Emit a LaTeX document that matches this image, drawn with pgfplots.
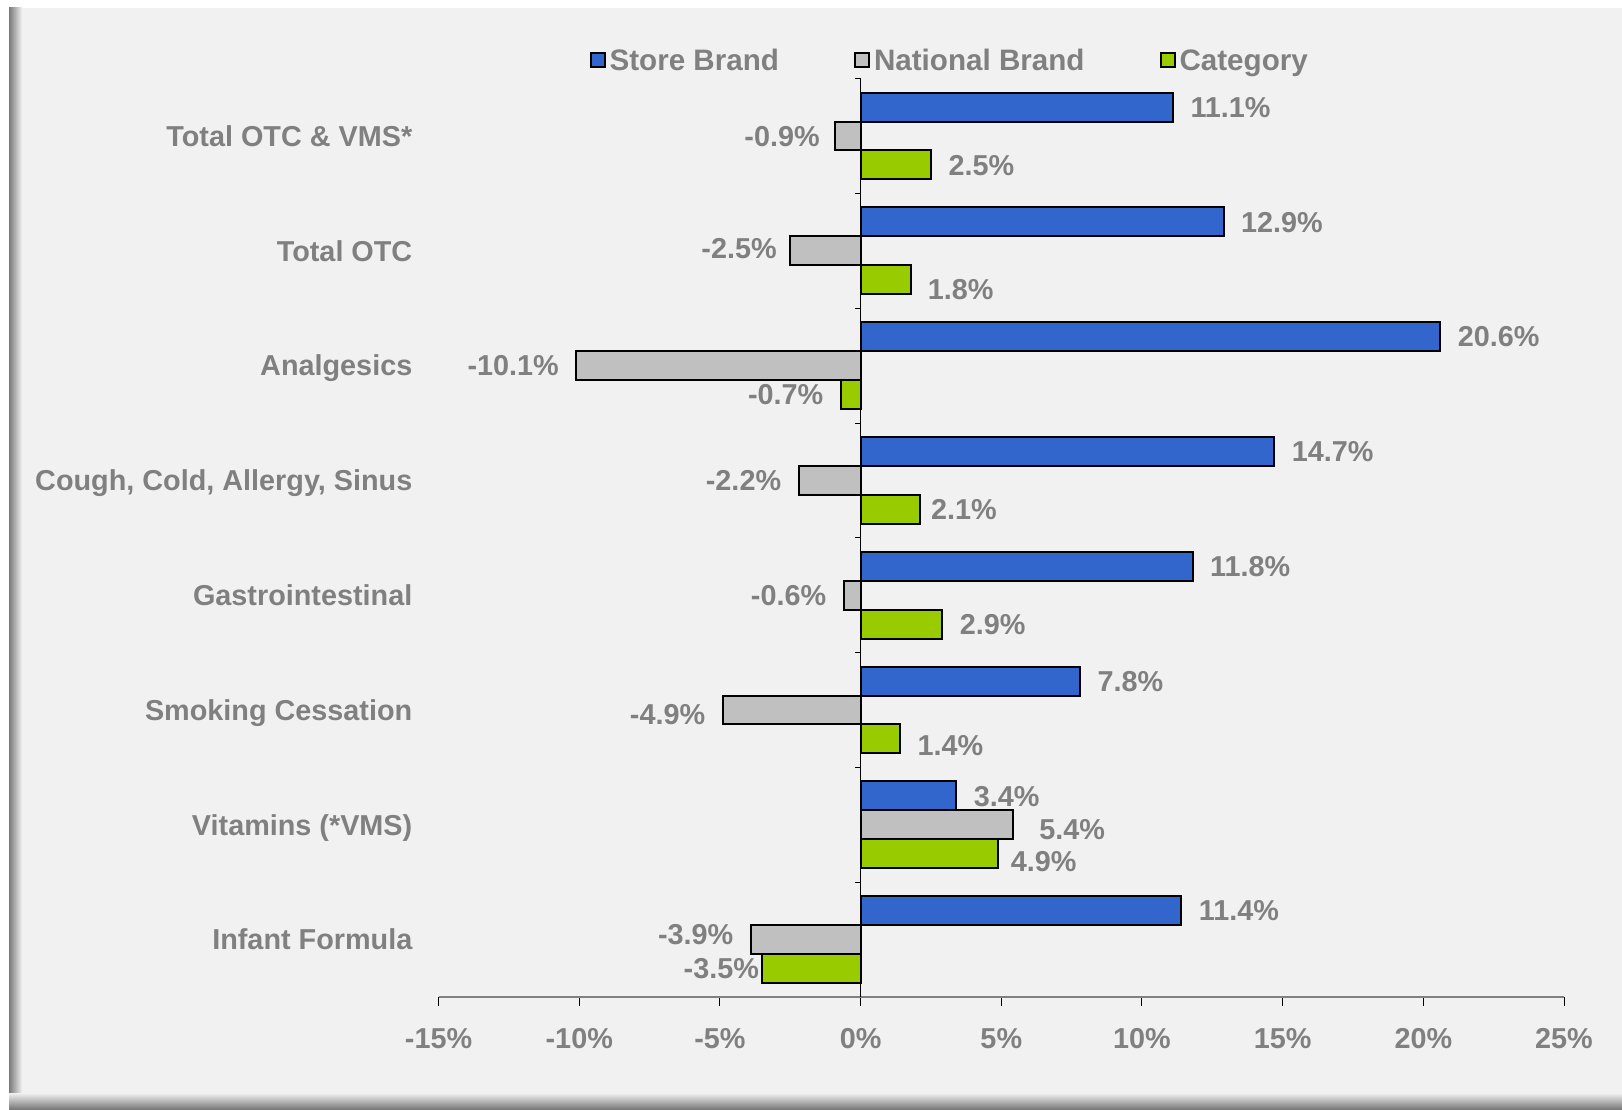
\documentclass[border=0pt]{standalone}
\usepackage{pgfplots}
\pgfplotsset{compat=1.18}
\usepackage{pgfplotstable}
\usepackage{fontspec}
\setmainfont{Liberation Sans}
\definecolor{bg}{HTML}{F1F1F1}
\definecolor{txt}{HTML}{808080}
\definecolor{sb}{HTML}{3366CC}
\definecolor{nb}{HTML}{C0C0C0}
\definecolor{cat}{HTML}{99CC00}
\definecolor{shadow}{HTML}{7A7A7A}
\newcommand\lf{\fontsize{14.4pt}{17pt}\selectfont\bfseries}
\newcommand\legfont{\fontsize{14.8pt}{17pt}\selectfont\bfseries}

\pgfplotstableread{
y x dx dy
0 11.1 0 0
1 12.9 0 0
2 20.6 0 0
3 14.7 0 0
4 11.8 0 0
5 7.8 0 0
6 3.4 0 0
7 11.4 0 0
}\store
\pgfplotstableread{
y x dx dy
0 -0.9 1 0
1 -2.5 2 1.5
2 -10.1 0 0
3 -2.2 0 0
4 -0.6 0 0
5 -4.9 0 -2
6 5.4 4.6 -2
7 -3.9 0 2.6
}\national
\pgfplotstableread{
y x dx dy
0 2.5 0 0
1 1.8 -0.5 -4.6
2 -0.7 0 0
3 2.1 -3.1 0
4 2.9 0 0
5 1.4 0 -3.1
6 4.9 -2.6 -3.6
7 -3.5 7.2 0
}\category

\begin{document}
\begin{tikzpicture}
\useasboundingbox (0,0) rectangle (811pt,554.5pt);
\fill[white] (0,0) rectangle (811pt,554.5pt);
\fill[bg] (4.5pt,0) rectangle (811pt,550.5pt);
\shade[left color=shadow, right color=bg] (4.5pt,0) rectangle (11pt,550.5pt);
\shade[bottom color=shadow, top color=bg] (4.5pt,0) rectangle (811pt,8pt);
\begin{axis}[
  at={(219.3pt,56pt)}, anchor=south west,
  scale only axis, width=562.7pt, height=459.2pt,
  xmin=-15, xmax=25, ymin=-0.5, ymax=7.5, y dir=reverse,
  xbar, bar width=0.252,
  axis x line*=bottom, axis y line*=left,
  y axis line style={draw=none},
  x axis line style={draw=txt, line width=1pt},
  xtick={-15,-10,...,25},
  xticklabel={\pgfmathprintnumber{\tick}\%},
  xtick style={draw=black, line width=0.5pt},
  tick align=outside, major tick length=4.5pt,
  ytick={0,...,7},
  yticklabels={{Total OTC \& VMS*},{Total OTC},{Analgesics},{Cough, Cold, Allergy, Sinus},{Gastrointestinal},{Smoking Cessation},{Vitamins (*VMS)},{Infant Formula}},
  ytick style={draw=none},
  tick label style={font=\lf, text=txt},
  yticklabel style={inner sep=0pt, anchor=east, xshift=-8.45pt, text height=10.3pt, text depth=0pt},
  xticklabel style={inner sep=0pt, anchor=north, yshift=-11pt},
  /pgf/number format/assume math mode=true,
  point meta=x,
  visualization depends on={\thisrow{dx}\as\dx},
  visualization depends on={\thisrow{dy}\as\dy},
  nodes near coords={\pgfmathprintnumber[fixed,fixed zerofill,precision=1]{\pgfplotspointmeta}\%},
  every node near coord/.append style={font=\lf, text=txt, inner xsep=8.3pt, inner ysep=0pt, text height=10.3pt, text depth=0pt, xshift=\dx pt, yshift=\dy pt},
  legend style={at={(0.1342,1.0203)}, anchor=west, draw=none, fill=none, legend columns=3,
    inner sep=0pt, outer sep=0pt,
    nodes={font=\legfont, text=txt, inner xsep=2pt, inner ysep=0pt, text height=10.5pt, text depth=0pt},
    /tikz/every even column/.append style={column sep=35.5pt}},
  legend image code/.code={\draw[#1, line width=1pt] (0pt,-3.5pt) rectangle (7pt,3.5pt);},
]
\addplot[fill=sb, draw=black, line width=1pt, bar shift=-0.252] table[x=x,y=y]{\store};
\addlegendentry{Store Brand}
\addplot[fill=nb, draw=black, line width=1pt, bar shift=0] table[x=x,y=y]{\national};
\addlegendentry{National Brand}
\addplot[fill=cat, draw=black, line width=1pt, bar shift=0.252] table[x=x,y=y]{\category};
\addlegendentry{Category}
\draw[black, line width=0.5pt] (axis cs:0,-0.5) -- (axis cs:0,7.5);
\pgfplotsinvokeforeach{-0.5,0.5,1.5,2.5,3.5,4.5,5.5,6.5}{
  \draw[black, line width=0.5pt] ([xshift=-3pt]axis cs:0,#1) -- (axis cs:0,#1);
}
\end{axis}
\end{tikzpicture}
\end{document}
